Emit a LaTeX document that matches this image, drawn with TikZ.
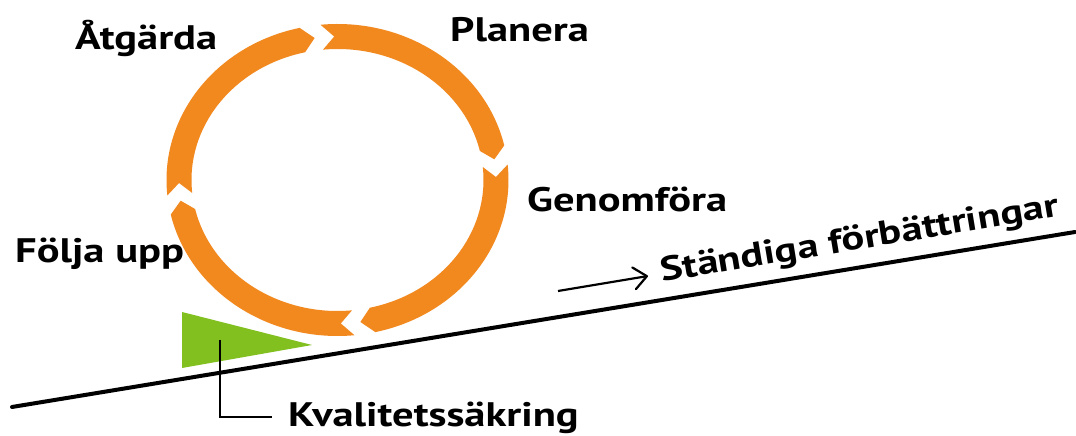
\documentclass[tikz,border=0pt]{standalone}
\usepackage{fontspec}
\setmainfont{PT Sans}[FakeStretch=1.25]
\usetikzlibrary{arrows.meta}
\definecolor{ringorange}{RGB}{242,137,31}
\definecolor{qgreen}{RGB}{130,192,32}
\begin{document}
\begin{tikzpicture}[x=1pt,y=1pt,
  lbl/.style={font=\fontsize{34}{40}\selectfont\bfseries, inner sep=0pt, anchor=base west},
  ringpart/.style={fill=ringorange, draw=none},
  baseline/.style={line width=4pt, line cap=round},
  thinline/.style={line width=2.5pt}]
\fill[white] (0,0) rectangle (1076,436);
\useasboundingbox (0,0) rectangle (1076,436);
% ring of four arrow segments
\begin{scope}[shift={(337.5,256)}]
\def\g{1.3}\def\c{4.5}
\foreach \S/\E in {97/7, 7/-83, -83/-173, 187/97}{
  \pgfmathsetmacro\a{\S-\g}
  \pgfmathsetmacro\b{\E+\g+\c}
  \pgfmathsetmacro\t{\E+\g}
  \pgfmathsetmacro\n{\S-\g-\c}
  \fill[ringpart] (\a:171 and 156) arc[start angle=\a, end angle=\b, x radius=171, y radius=156]
     -- (\t:158.5 and 143.5) -- (\b:146 and 131)
     arc[start angle=\b, end angle=\a, x radius=146, y radius=131]
     -- (\n:158.5 and 143.5) -- cycle;
}
\end{scope}
% green triangle
\fill[qgreen] (182,124) -- (182,68) -- (312,91) -- cycle;
% main rising line
\coordinate (L1) at (12,29);
\coordinate (L2) at (1075,204);
\draw[baseline] (L1) -- (L2);
% labels
\node[lbl] (atg) at (75,386) {Åtgärda};
\node[lbl] (plan) at (450,394) {Planera};
\node[lbl] (gen) at (527,224) {Genomföra};
\node[lbl] (folj) at (15,173) {Följa upp};
\node[lbl] (kval) at (288,9) {Kvalitetssäkring};
\node[lbl, rotate=9.4] (stand) at (662,154) {Ständiga förbättringar};
% bracket to Kvalitetssäkring
\coordinate (b1) at (220,96);
\coordinate (b2) at (272,19);
\draw[thinline] (b1) |- (b2);
% small arrow
\coordinate (a1) at (558,145);
\coordinate (a2) at (648,160);
\draw[line width=2.2pt, -{Straight Barb[length=13pt,width=22pt,round]}] (a1) -- (a2);
\end{tikzpicture}
\end{document}
